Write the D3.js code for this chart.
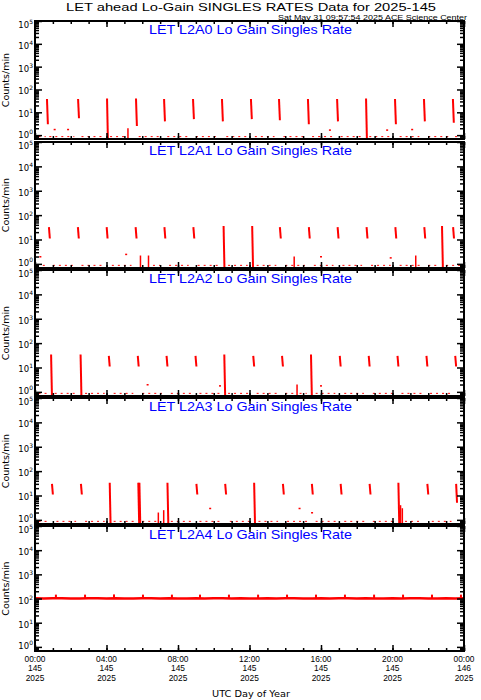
<!DOCTYPE html>
<html>
<head>
<meta charset="utf-8">
<script src="https://cdn.jsdelivr.net/npm/d3@7"></script>
<style>
body{margin:0;background:#fff;}
text{font-family:"DejaVu Sans",sans-serif;}
</style>
</head>
<body>
<svg id="chart" width="481" height="700"></svg>
<script>
// ---- data (hours of day 145, counts/min) ----
var panelNames = ["LET L2A0 Lo Gain Singles Rate","LET L2A1 Lo Gain Singles Rate",
  "LET L2A2 Lo Gain Singles Rate","LET L2A3 Lo Gain Singles Rate","LET L2A4 Lo Gain Singles Rate"];
var xTickHours = [0,4,8,12,16,20,24];
var xTickTimes = ["00:00","04:00","08:00","12:00","16:00","20:00","00:00"];
var xTickDays = ["145","145","145","145","145","145","146"];
var xTickYears = ["2025","2025","2025","2025","2025","2025","2025"];
var yTickExps = [0,1,2,3,4,5];

// spikes: [hour, peak, tail]  (tail 0 = rate fell to zero, off the log axis)
var spikesA0 = [[0.67,38,3],[2.41,38,5.5],[4.03,40,0],[5.65,40,2.5],[7.22,38,4],[8.84,38,5],
  [10.46,38,4],[12.08,38,5],[13.65,38,4.5],[15.27,38,3],[16.90,38,4],[18.52,40,0],
  [20.14,38,3],[21.76,38,4],[23.38,38,3.5]];
var spikesA1 = [[0.78,32,11],[2.40,32,11],[4.01,32,11],[5.63,32,11],[7.24,32,11],[8.86,32,11],
  [10.55,36,0],[12.15,36,0],[13.70,32,11],[15.32,32,11],[16.93,32,11],[18.55,32,11],
  [20.16,32,11],[21.78,32,11],[22.77,36,0],[23.39,32,11]];
var spikesA2 = [[0.90,34,0],[2.55,34,0],[4.13,30,11],[5.75,30,11],[7.36,30,11],[8.98,30,11],
  [10.59,34,0],[12.21,30,11],[13.82,30,11],[15.44,34,0],[17.05,30,11],[18.67,30,11],
  [20.28,30,11],[21.90,30,11],[23.51,30,11]];
var spikesA3 = [[0.95,30,11],[2.57,30,11],[4.18,33,0],[5.78,33,0],[5.84,33,0],[7.41,33,0],
  [9.03,30,11],[10.64,30,11],[12.26,33,0],[13.87,30,11],[15.49,30,11],[17.10,30,11],
  [18.72,30,11],[20.33,33,0],[21.95,30,11],[23.56,30,5]];

// short bars rising from the floor: [hour, value]
var barsA0 = [[5.2,2.0]];
var barsA1 = [[5.9,2.2],[6.35,2.2],[14.5,2.0],[21.3,2.2]];
var barsA2 = [[14.66,2.0]];
var barsA3 = [[6.9,2.0],[7.2,2.5],[20.45,4],[20.55,3]];

// isolated points: [hour, value]
var dotsA0 = [[1.1,1.8],[1.85,1.8],[16.5,1.7],[19.7,1.7],[21.1,1.8]];
var dotsA1 = [[0.3,2],[5.1,2.5],[16.0,2],[19.9,1.8]];
var dotsA2 = [[6.3,2],[10.35,1.8],[16.0,1.8]];
var dotsA3 = [[9.8,3],[14.8,3],[15.5,2]];

// stretches where 1 count/min readings appear: [from hour, to hour]
var floorA0 = [[0.2,0.6],[0.8,2.2],[2.6,3.8],[4.2,5.1],[5.8,7.0],[7.4,8.6],[9.0,10.3],[10.7,11.9],
  [12.3,13.4],[13.9,15.0],[15.5,16.7],[17.1,18.3],[18.7,19.9],[20.4,21.5],[22.0,23.2],[23.5,23.9]];
var floorA1 = [[0.1,0.6],[1.0,2.2],[2.6,3.8],[4.3,5.4],[6.6,7.0],[7.5,8.6],[9.1,10.3],[10.8,11.9],
  [12.4,13.5],[14.0,15.1],[15.6,16.7],[17.2,18.3],[18.8,19.9],[20.4,21.6],[22.0,22.6],[23.0,23.9]];
var floorA2 = [[0.2,0.7],[1.1,2.3],[2.8,3.9],[4.4,5.5],[6.0,7.1],[7.6,8.8],[9.2,10.4],[10.8,12.0],
  [12.4,13.6],[14.0,14.5],[14.8,15.2],[15.7,16.8],[17.3,18.4],[18.9,20.0],[20.5,21.7],[22.1,23.3]];
var floorA3 = [[0.2,0.7],[1.2,2.3],[2.8,3.9],[4.4,5.6],[6.0,6.8],[7.6,8.8],[9.2,10.4],[10.9,12.0],
  [12.5,13.6],[14.1,15.3],[15.7,16.9],[17.3,18.5],[18.9,20.1],[20.7,21.7],[22.2,23.3]];

// L2A4: steady rate sampled every 30 min, plus small periodic bumps
var baseA4 = [102,101,103,102,100,101,103,102,101,102,100,101,102,103,101,102,101,100,102,101,
  103,102,101,102,100,101,102,101,103,102,101,100,102,101,102,103,101,102,100,101,102,101,103,
  102,101,100,102,101,102];
var bumpsA4 = [[1.17,145],[2.80,145],[4.42,148],[6.04,145],[7.66,145],[9.23,145],[10.85,145],
  [12.48,145],[14.10,145],[15.72,145],[17.34,145],[18.97,145],[20.59,145],[22.21,145],[23.83,145]];

var spikeSets = [spikesA0, spikesA1, spikesA2, spikesA3, []];
var barSets = [barsA0, barsA1, barsA2, barsA3, []];
var dotSets = [dotsA0, dotsA1, dotsA2, dotsA3, []];
var floorSets = [floorA0, floorA1, floorA2, floorA3, []];

// ---- layout ----
var plotLeft = 35, plotRight = 464;
var panelTop = [21, 142, 270, 398, 526];
var panelBottom = [139, 268, 396, 524, 651];
var yMin = Math.pow(10, -0.17);
var red = "#ff0000", blue = "#0000ff";
var lib = "'Liberation Sans',Arial,sans-serif";

var svg = d3.select("#chart");
var x = d3.scaleLinear().domain([0, 24]).range([plotLeft, plotRight]);

var yMajor = yTickExps.map(function(e){ return Math.pow(10, e); });
var yMinor = [];
for (var e = -1; e < 5; e++) {
  for (var m = 2; m < 10; m++) {
    var v = m * Math.pow(10, e);
    if (v > yMin && v < 1e5) yMinor.push(v);
  }
}
var xMinor = d3.range(0, 25);

svg.append("text").attr("x", 251).attr("y", 11.1).attr("text-anchor", "middle")
  .style("font-family", lib).attr("font-size", 11.8)
  .attr("textLength", 370).attr("lengthAdjust", "spacingAndGlyphs")
  .text("LET ahead Lo-Gain SINGLES RATES Data for 2025-145");
svg.append("text").attr("x", 467).attr("y", 19.9).attr("text-anchor", "end")
  .style("font-family", lib).attr("font-size", 6.8)
  .attr("textLength", 189).attr("lengthAdjust", "spacingAndGlyphs")
  .text("Sat May 31 09:57:54 2025 ACE Science Center");

function drawTicks(g, axis, tx, ty) {
  var a = g.append("g").attr("transform", "translate(" + tx + "," + ty + ")").call(axis);
  a.select(".domain").remove();
  a.selectAll("line").attr("stroke", "#000").attr("stroke-width", 1.5);
  a.selectAll("text").remove();
}

panelNames.forEach(function(name, i) {
  var top = panelTop[i], bottom = panelBottom[i];
  var y = d3.scaleLog().domain([yMin, 1e5]).range([bottom, top]);
  var yv = function(v){ return v <= 0 ? bottom + 2 : y(v); };
  var g = svg.append("g");

  g.append("clipPath").attr("id", "clip" + i).append("rect")
    .attr("x", plotLeft).attr("y", top).attr("width", plotRight - plotLeft).attr("height", bottom - top);
  var data = g.append("g").attr("clip-path", "url(#clip" + i + ")");

  // 1 count/min readings along the floor
  data.selectAll(".floor").data(floorSets[i]).enter().append("line")
    .attr("x1", function(d){ return x(d[0]); }).attr("x2", function(d){ return x(d[1]); })
    .attr("y1", y(1) + 1.5).attr("y2", y(1) + 1.5)
    .attr("stroke", red).attr("stroke-width", 1).attr("stroke-dasharray", "2,4");

  data.selectAll(".bar").data(barSets[i]).enter().append("line")
    .attr("x1", function(d){ return x(d[0]); }).attr("x2", function(d){ return x(d[0]); })
    .attr("y1", bottom).attr("y2", function(d){ return y(d[1]); })
    .attr("stroke", red).attr("stroke-width", 1.5);

  data.selectAll(".dot").data(dotSets[i]).enter().append("rect")
    .attr("x", function(d){ return x(d[0]) - 1; }).attr("y", function(d){ return y(d[1]) - 0.5; })
    .attr("width", 2).attr("height", 1.5).attr("fill", red);

  data.selectAll(".spike").data(spikeSets[i]).enter().append("line")
    .attr("x1", function(d){ return x(d[0]); }).attr("x2", function(d){ return x(d[0] + 0.05); })
    .attr("y1", function(d){ return y(d[1]); }).attr("y2", function(d){ return yv(d[2]); })
    .attr("stroke", red).attr("stroke-width", 2);

  if (i === 4) {
    var pts = baseA4.map(function(v, k){ return [k * 0.5, v]; });
    var line = d3.line().x(function(d){ return x(d[0]); }).y(function(d){ return y(d[1]); });
    data.append("path").attr("d", line(pts)).attr("fill", "none")
      .attr("stroke", red).attr("stroke-width", 2.5);
    data.selectAll(".bump").data(bumpsA4).enter().append("line")
      .attr("x1", function(d){ return x(d[0]); }).attr("x2", function(d){ return x(d[0]); })
      .attr("y1", function(d){ return y(baseA4[Math.round(d[0] * 2)]); })
      .attr("y2", function(d){ return y(d[1]); })
      .attr("stroke", red).attr("stroke-width", 2);
  }

  // ticks, all pointing inward
  drawTicks(g, d3.axisLeft(y).tickValues(yMajor).tickSize(-7).tickSizeOuter(0), plotLeft, 0);
  drawTicks(g, d3.axisLeft(y).tickValues(yMinor).tickSize(-4).tickSizeOuter(0), plotLeft, 0);
  drawTicks(g, d3.axisRight(y).tickValues(yMajor).tickSize(-7).tickSizeOuter(0), plotRight, 0);
  drawTicks(g, d3.axisRight(y).tickValues(yMinor).tickSize(-4).tickSizeOuter(0), plotRight, 0);
  drawTicks(g, d3.axisBottom(x).tickValues(xTickHours).tickSize(-6).tickSizeOuter(0), 0, bottom);
  drawTicks(g, d3.axisBottom(x).tickValues(xMinor).tickSize(-3).tickSizeOuter(0), 0, bottom);
  drawTicks(g, d3.axisTop(x).tickValues(xTickHours).tickSize(-6).tickSizeOuter(0), 0, top);
  drawTicks(g, d3.axisTop(x).tickValues(xMinor).tickSize(-3).tickSizeOuter(0), 0, top);

  g.append("rect").attr("x", plotLeft).attr("y", top)
    .attr("width", plotRight - plotLeft).attr("height", bottom - top)
    .attr("fill", "none").attr("stroke", "#000").attr("stroke-width", 2);

  // y labels 10^n
  yTickExps.forEach(function(ex) {
    var off = ex === 5 ? 7 : (ex === 0 ? 2.5 : 5);
    var t = g.append("text").attr("x", 33).attr("y", y(Math.pow(10, ex)) + off)
      .attr("text-anchor", "end").attr("font-size", 8.5);
    t.append("tspan").text("10");
    t.append("tspan").attr("dy", -4).attr("font-size", 6).text(ex);
  });

  g.append("text").attr("transform", "translate(9," + ((top + bottom) / 2) + ") rotate(-90)")
    .attr("text-anchor", "middle").attr("font-size", 9.5).text("Counts/min");

  g.append("text").attr("x", 250.5).attr("y", top + 12.5).attr("text-anchor", "middle")
    .style("font-family", lib).attr("font-size", 13).attr("fill", blue)
    .attr("textLength", 203).attr("lengthAdjust", "spacingAndGlyphs").text(name);
});

// bottom time labels, three lines each
var lastBottom = panelBottom[4];
xTickHours.forEach(function(h, k) {
  [xTickTimes[k], xTickDays[k], xTickYears[k]].forEach(function(s, r) {
    svg.append("text").attr("x", x(h)).attr("y", lastBottom + 10.5 + r * 9.5)
      .attr("text-anchor", "middle").style("font-family", lib).attr("font-size", 8.4).text(s);
  });
});
svg.append("text").attr("x", 251).attr("y", 697).attr("text-anchor", "middle")
  .attr("font-size", 9).attr("textLength", 78).attr("lengthAdjust", "spacingAndGlyphs")
  .text("UTC Day of Year");
</script>
</body>
</html>
